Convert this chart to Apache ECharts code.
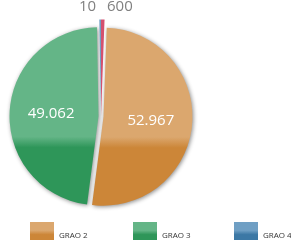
<!DOCTYPE html>
<html>
<head>
<meta charset="utf-8">
<script src="https://cdn.jsdelivr.net/npm/echarts@6/dist/echarts.min.js"></script>
<style>
  html, body { margin: 0; padding: 0; background: #fff; }
  #chart { width: 291px; height: 240px; }
</style>
</head>
<body>
<div id="chart"></div>
<script>
const categories = ['GRAO 1', 'GRAO 2', 'GRAO 3', 'GRAO 4']
const values = [600, 52967, 49062, 10]
const legendNames = ['GRAO 2', 'GRAO 3', 'GRAO 4']
const smallSlices = ['GRAO 1', 'GRAO 4']

// light top / dark bottom for each slice
const palette = {
  'GRAO 1': ['#d4506f', '#b8304f'],
  'GRAO 2': ['#dba76e', '#cc8638'],
  'GRAO 3': ['#64b587', '#2e9659'],
  'GRAO 4': ['#6f9fc4', '#3c78a5']
}
// nudge for inside labels
const labelShift = { 'GRAO 2': [0, 0], 'GRAO 3': [1, -6] }

function fmt(v) {
  return String(v).replace(/\B(?=(\d{3})+(?!\d))/g, '.')
}

function pieFill(name) {
  const c = palette[name]
  return {
    type: 'linear', x: 0, y: 0, x2: 0, y2: 240, global: true,
    colorStops: [
      { offset: 0, color: c[0] },
      { offset: 0.57, color: c[0] },
      { offset: 0.615, color: c[1] },
      { offset: 1, color: c[1] }
    ]
  }
}

function iconFill(name) {
  const c = palette[name]
  return {
    type: 'linear', x: 0, y: 0, x2: 0, y2: 1,
    colorStops: [
      { offset: 0, color: c[0] },
      { offset: 0.3, color: c[0] },
      { offset: 0.45, color: c[1] },
      { offset: 1, color: c[1] }
    ]
  }
}

const chart = echarts.init(document.getElementById('chart'), null, { renderer: 'canvas' })

// big slices (inside labels)
const bigData = categories.map((name, i) => {
  const small = smallSlices.indexOf(name) >= 0
  return {
    name: name,
    value: values[i],
    selected: !small,
    itemStyle: small ? { color: 'rgba(0,0,0,0)', shadowBlur: 0, shadowColor: 'rgba(0,0,0,0)' } : { color: pieFill(name) },
    label: small ? { show: false } : { show: true, offset: labelShift[name] }
  }
})

// thin slices drawn a little larger (outside labels)
const smallData = categories.map((name, i) => {
  const small = smallSlices.indexOf(name) >= 0
  return {
    name: name,
    value: values[i],
    itemStyle: small ? { color: pieFill(name) } : { color: 'rgba(0,0,0,0)' },
    label: { show: small }
  }
})

const legendLeft = [30, 133, 234]

chart.setOption({
  animation: false,
  legend: legendNames.map((name, i) => ({
    left: legendLeft[i],
    top: 222,
    padding: 0,
    icon: 'rect',
    itemWidth: 24,
    itemHeight: 28,
    selectedMode: false,
    textStyle: { fontFamily: 'Open Sans', fontSize: 8, color: '#333' },
    data: [{ name: name, itemStyle: { color: iconFill(name) } }]
  })),
  series: [{
    name: 'main',
    type: 'pie',
    center: [101, 116.5],
    radius: [0, 89],
    startAngle: 90,
    clockwise: true,
    minAngle: 1,
    selectedMode: 'multiple',
    selectedOffset: 2.5,
    emphasis: { disabled: true },
    itemStyle: {
      shadowBlur: 4,
      shadowColor: 'rgba(0,0,0,0.45)',
      shadowOffsetX: 1,
      shadowOffsetY: 1
    },
    label: {
      position: 'inside',
      color: '#fff',
      fontFamily: 'Open Sans',
      fontSize: 15,
      formatter: p => fmt(p.value)
    },
    labelLine: { show: false },
    data: bigData
  }, {
    name: 'thin',
    type: 'pie',
    center: [101, 116.5],
    radius: [0, 97],
    startAngle: 90,
    clockwise: true,
    minAngle: 1,
    silent: true,
    z: 3,
    legendHoverLink: false,
    label: {
      position: 'outside',
      color: '#808080',
      fontFamily: 'Open Sans',
      fontSize: 15,
      distanceToLabelLine: 4,
      formatter: p => fmt(p.value)
    },
    labelLine: { show: false, length: 13, length2: 0 },
    data: smallData
  }]
})
</script>
</body>
</html>
